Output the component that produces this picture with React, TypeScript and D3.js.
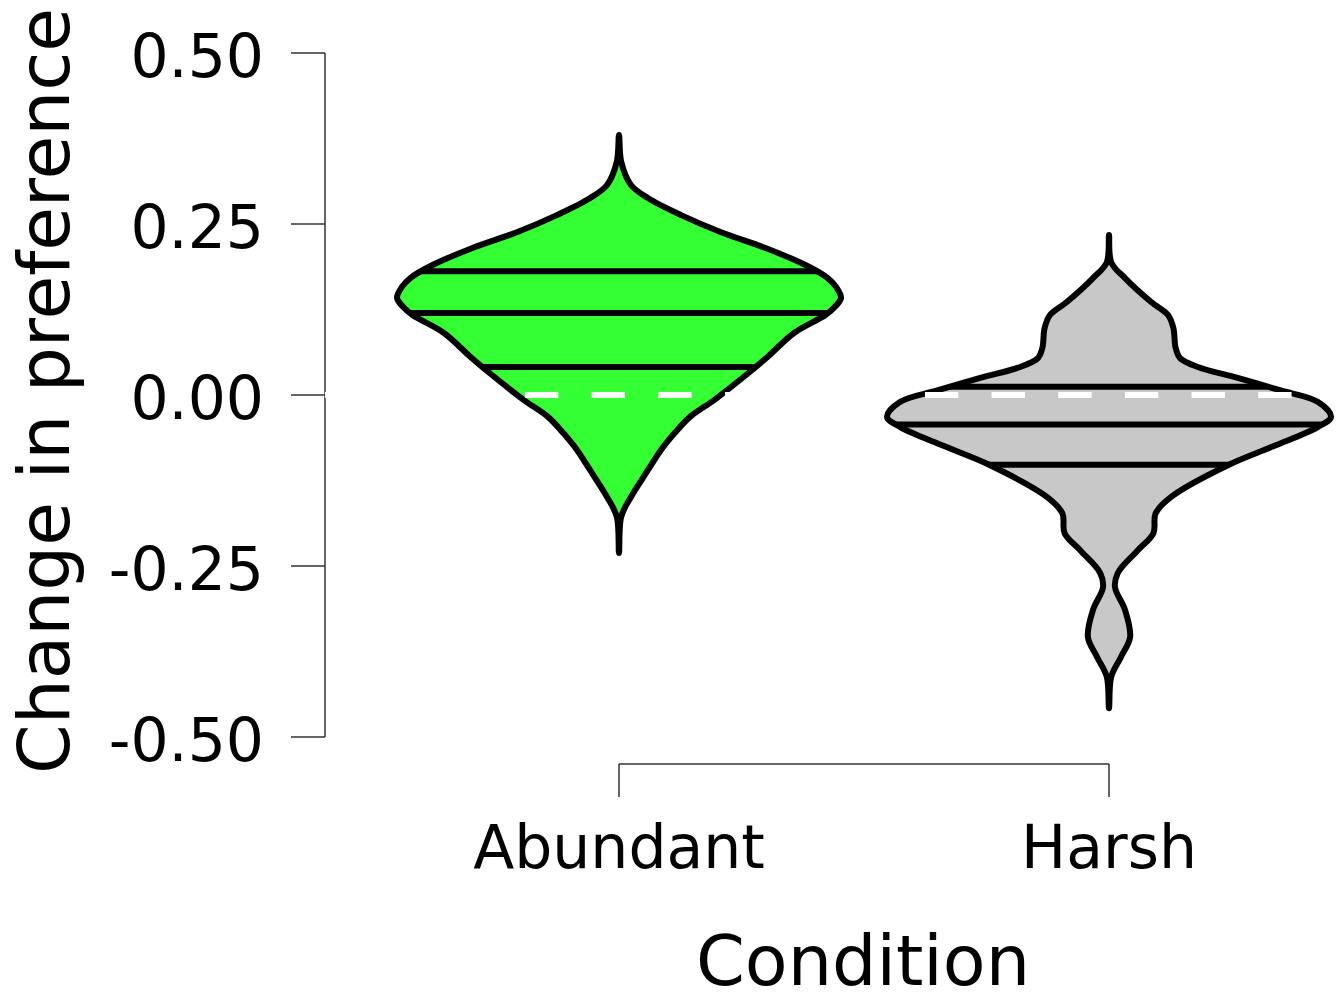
import React from 'react';
import * as d3 from 'd3';

// categories and tick labels
const conditions = ['Abundant', 'Harsh'];
const yTicks = [-0.5, -0.25, 0, 0.25, 0.5];
const fills = ['#33ff33', '#c8c8c8'];

// density profile (value, relative half width)
const abundantValues = [0.38, 0.341, 0.307, 0.288, 0.263, 0.238, 0.215, 0.19, 0.171, 0.158, 0.142, 0.129, 0.117, 0.091, 0.056, 0.034, -0.007, -0.032, -0.056, -0.08, -0.11, -0.149, -0.178, -0.231];
const abundantDensity = [0, 0.01, 0.054, 0.13, 0.28, 0.46, 0.66, 0.84, 0.94, 0.978, 1.0, 0.973, 0.93, 0.79, 0.67, 0.59, 0.43, 0.32, 0.25, 0.19, 0.13, 0.054, 0.01, 0];

const harshValues = [0.234, 0.194, 0.171, 0.136, 0.117, 0.098, 0.069, 0.054, 0.041, 0.025, 0.007, -0.01, -0.032, -0.047, -0.075, -0.102, -0.149, -0.173, -0.202, -0.227, -0.26, -0.281, -0.314, -0.354, -0.383, -0.412, -0.458];
const harshDensity = [0, 0.01, 0.072, 0.19, 0.266, 0.29, 0.3, 0.32, 0.4, 0.58, 0.77, 0.94, 1.0, 0.94, 0.74, 0.54, 0.28, 0.21, 0.2, 0.13, 0.04, 0.027, 0.072, 0.095, 0.054, 0.01, 0];

// quartiles
const abundantQuantiles = [0.041, 0.12, 0.181];
const harshQuantiles = [-0.102, -0.043, 0.012];

const groups = [
  { name: conditions[0], values: abundantValues, density: abundantDensity, quantiles: abundantQuantiles },
  { name: conditions[1], values: harshValues, density: harshDensity, quantiles: harshQuantiles },
];

const W = 1336;
const H = 994;
const font = '"DejaVu Sans", sans-serif';

const App = () => {
  const y = d3.scaleLinear().domain([-0.5, 0.5]).range([737, 53]);
  const x = d3.scalePoint().domain(conditions).range([619, 1109]);
  const hw = d3.scaleLinear().domain([0, 1]).range([0, 222]);

  const line = d3.line().curve(d3.curveCatmullRomClosed.alpha(0.5));

  const violinPath = (g) => {
    const cx = x(g.name);
    const right = g.values.map((v, i) => [cx + hw(g.density[i]), y(v)]);
    const left = g.values
      .map((v, i) => [cx - hw(g.density[i]), y(v)])
      .slice(1, -1)
      .reverse();
    return line([...right, ...left]);
  };

  const axisLeft = 325;

  return (
    <svg width={W} height={H} style={{ position: 'absolute', left: 0, top: 0, background: '#fff' }}>
      <defs>
        {groups.map((g, i) => (
          <clipPath id={`violin-clip-${i}`} key={i}>
            <path d={violinPath(g)} />
          </clipPath>
        ))}
      </defs>

      {/* y axis */}
      <line x1={axisLeft} x2={axisLeft} y1={y(-0.5)} y2={y(0.5)} stroke="#333" strokeWidth={1.5} />
      {yTicks.map((t) => (
        <g key={t}>
          <line x1={291} x2={axisLeft} y1={y(t)} y2={y(t)} stroke="#333" strokeWidth={1.5} />
          <text x={264} y={y(t) + 24} textAnchor="end" fontFamily={font} fontSize={60} fill="#000">
            {t.toFixed(2)}
          </text>
        </g>
      ))}
      <text
        transform={`translate(69, 391) rotate(-90)`}
        textAnchor="middle"
        fontFamily={font}
        fontSize={71}
        fill="#000"
      >
        Change in preference
      </text>

      {/* x axis */}
      <line x1={x(conditions[0])} x2={x(conditions[1])} y1={764} y2={764} stroke="#333" strokeWidth={1.5} />
      {conditions.map((c) => (
        <g key={c}>
          <line x1={x(c)} x2={x(c)} y1={764} y2={797} stroke="#333" strokeWidth={1.5} />
          <text x={x(c)} y={868} textAnchor="middle" fontFamily={font} fontSize={60} fill="#000">
            {c}
          </text>
        </g>
      ))}
      <text x={863} y={985} textAnchor="middle" fontFamily={font} fontSize={70} fill="#000">
        Condition
      </text>

      {/* violins */}
      {groups.map((g, i) => {
        const cx = x(g.name);
        const d = violinPath(g);
        return (
          <g key={g.name}>
            <path d={d} fill={fills[i]} stroke="none" />
            <g clipPath={`url(#violin-clip-${i})`}>
              {g.quantiles.map((q) => (
                <line key={q} x1={cx - 240} x2={cx + 240} y1={y(q)} y2={y(q)} stroke="#000" strokeWidth={6} />
              ))}
            </g>
            <path d={d} fill="none" stroke="#000" strokeWidth={6} strokeLinejoin="round" />
          </g>
        );
      })}

      {/* zero reference */}
      <line
        x1={axisLeft}
        x2={W}
        y1={y(0)}
        y2={y(0)}
        stroke="#fff"
        strokeWidth={6}
        strokeDasharray="33.33,33.33"
      />
    </svg>
  );
};

export default App;
